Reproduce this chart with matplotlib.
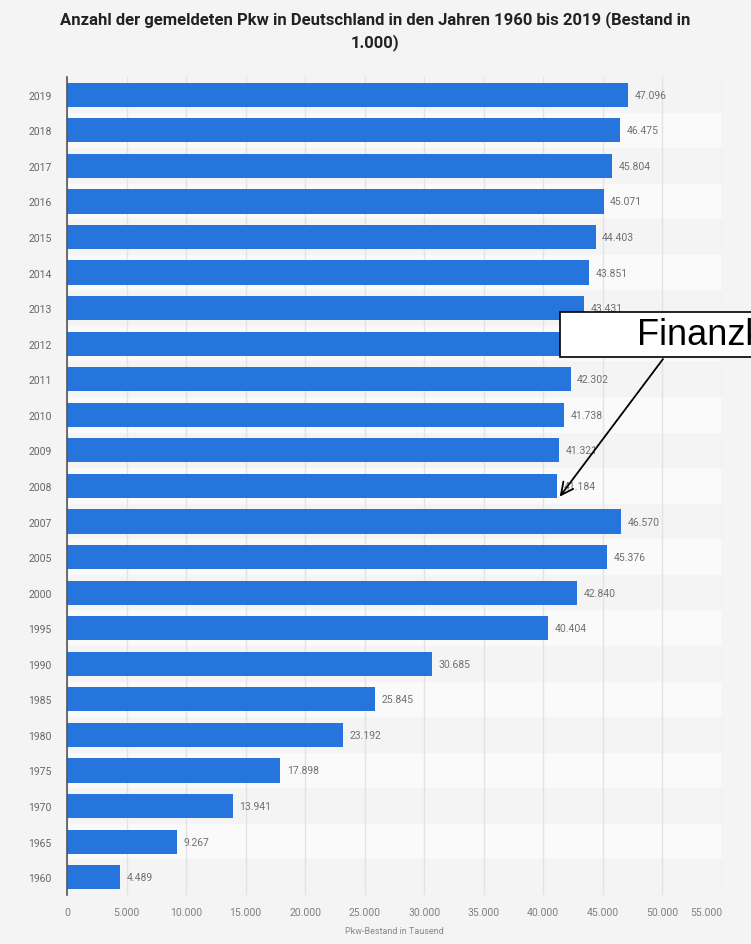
import numpy as np
import matplotlib.pyplot as plt
from matplotlib.patches import Rectangle

# Daten (Bestand in 1.000)
jahre = ["2019", "2018", "2017", "2016", "2015", "2014", "2013", "2012", "2011",
         "2010", "2009", "2008", "2007", "2005", "2000", "1995", "1990", "1985",
         "1980", "1975", "1970", "1965", "1960"]
bestand = [47096, 46475, 45804, 45071, 44403, 43851, 43431, 42928, 42302,
           41738, 41321, 41184, 46570, 45376, 42840, 40404, 30685, 25845,
           23192, 17898, 13941, 9267, 4489]
xticks = [0, 5000, 10000, 15000, 20000, 25000, 30000, 35000, 40000, 45000, 50000, 55000]

def fmt(v):
    return f"{v:,}".replace(",", ".")

plt.rcParams['font.family'] = ['Roboto', 'DejaVu Sans']

fig = plt.figure(figsize=(7.51, 9.45), dpi=100)
fig.patch.set_facecolor('#f4f4f4')
ax = fig.add_axes([0.0892, 0.0519, 0.872, 0.8656])
ax.set_facecolor('#f4f4f4')

pos = np.arange(len(jahre))
# abwechselnde Zeilenstreifen
for i in pos:
    if i % 2 == 1:
        ax.axhspan(i - 0.5, i + 0.5, color='#fafafa', zorder=0, lw=0)

ax.barh(pos, bestand, height=0.68, color='#2675dc', zorder=3)
for i, v in zip(pos, bestand):
    ax.text(v + 550, i, fmt(v), va='center', ha='left', fontsize=7.5,
            color='#707070', zorder=4)

ax.set_xlim(0, 55000)
ax.set_ylim(len(jahre) - 0.5, -0.5)
ax.set_yticks(pos)
ax.set_yticklabels(jahre, fontsize=7.5, color='#666666')
ax.set_xticks(xticks)
labs = ax.set_xticklabels([fmt(t) for t in xticks], fontsize=7.5, color='#808080')
labs[-1].set_horizontalalignment('right')
ax.tick_params(axis='y', length=0, pad=11)
ax.tick_params(axis='x', length=0, pad=9)
ax.grid(axis='x', color='#e3e3e3', lw=1, zorder=1)
for s in ['top', 'right', 'bottom']:
    ax.spines[s].set_visible(False)
ax.spines['left'].set_color('#555555')
ax.spines['left'].set_linewidth(1.2)
ax.spines['left'].set_zorder(5)
ax.set_xlabel("Pkw-Bestand in Tausend", fontsize=6.5, color='#888888', labelpad=6)

fig.text(0.5, 0.988, "Anzahl der gemeldeten Pkw in Deutschland in den Jahren 1960 bis 2019 (Bestand in\n1.000)",
         ha='center', va='top', fontsize=12, fontweight='bold', color='#222222',
         linespacing=1.45)

# Annotation Finanzkrise
box = Rectangle((0.7457, 0.6212), 0.3, 0.0476, transform=fig.transFigure,
                facecolor='white', edgecolor='black', lw=1.2, zorder=10)
fig.patches.append(box)
fig.text(0.848, 0.6455, "Finanzkrise", ha='left', va='center', fontsize=26,
         family='Liberation Sans', color='black', zorder=11)
i08 = jahre.index("2008")
ax.annotate("", xy=(bestand[i08] + 200, i08 + 0.3), xycoords='data',
            xytext=(0.8828, 0.619), textcoords='figure fraction',
            arrowprops=dict(arrowstyle='->', color='black', lw=1.3,
                            mutation_scale=22, shrinkA=0, shrinkB=0),
            zorder=12, annotation_clip=False)

fig.savefig("out.png", dpi=100, facecolor=fig.get_facecolor())
